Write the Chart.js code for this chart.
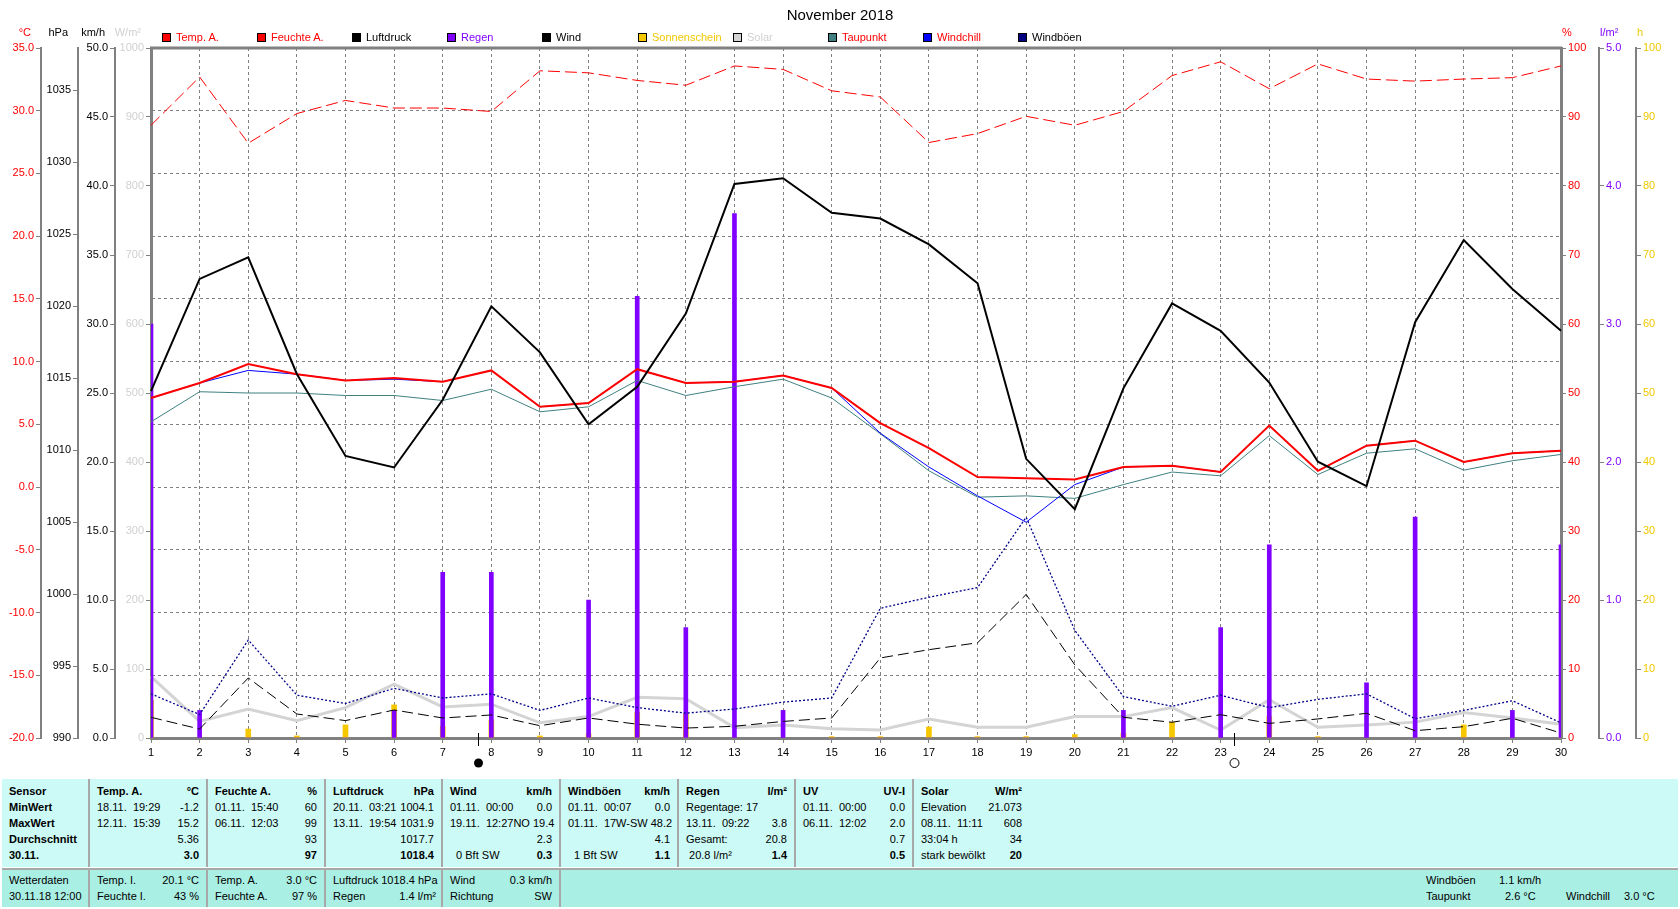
<!DOCTYPE html>
<html lang="de">
<head>
<meta charset="utf-8">
<title>November 2018</title>
<script src="https://cdn.jsdelivr.net/npm/chart.js@4.4.1/dist/chart.umd.min.js"></script>
<style>
  html, body { margin: 0; padding: 0; background: #fff; }
  body { position: relative; width: 1680px; height: 909px; overflow: hidden;
         font-family: "Liberation Sans", Arial, sans-serif; font-size: 11px; color: #000; }
  #chart { position: absolute; left: 0; top: 0; }
  #title { position: absolute; left: 0; top: 6px; width: 1680px; text-align: center; font-size: 15px; }
  .item { position: absolute; top: 31px; height: 13px; line-height: 13px; white-space: nowrap; }
  .item .box { position: absolute; left: 0; top: 2px; width: 7px; height: 7px; border: 1px solid #000; }
  .item .txt { position: absolute; left: 14px; top: 0; }
  .panel { position: absolute; left: 2px; width: 1676px; }
  #stats { top: 779px; height: 88px; background: #ccfaf6; }
  #status { top: 868px; height: 37px; background: #aaefe4; border-top: 2px solid #a8a8a8; }
  .col { position: absolute; top: 0; bottom: 0; box-sizing: border-box; padding: 0 7px 0 7px; border-left: 2px solid #a8a8a8; }
  .col.first { border-left: none; }
  #stats .col { padding-top: 4px; }
  #status .col { padding-top: 2px; }
  .row { display: flex; justify-content: space-between; gap: 3px; height: 16px; line-height: 16px; white-space: pre; }
  .b { font-weight: bold; }
  .free { position: absolute; white-space: nowrap; line-height: 16px; }
</style>
</head>
<body>
<canvas id="chart" width="1680" height="775"></canvas>
<div id="title">November 2018</div>
<div id="legend"></div>

<div id="stats" class="panel">
  <div class="col first" style="left:0;width:86px">
    <div class="row b"><span>Sensor</span></div>
    <div class="row b"><span>MinWert</span></div>
    <div class="row b"><span>MaxWert</span></div>
    <div class="row b"><span>Durchschnitt</span></div>
    <div class="row b"><span>30.11.</span></div>
  </div>
  <div class="col" style="left:86px;width:118px">
    <div class="row b"><span>Temp. A.</span><span>°C</span></div>
    <div class="row"><span>18.11.  19:29</span><span>-1.2</span></div>
    <div class="row"><span>12.11.  15:39</span><span>15.2</span></div>
    <div class="row"><span></span><span>5.36</span></div>
    <div class="row b"><span></span><span>3.0</span></div>
  </div>
  <div class="col" style="left:204px;width:118px">
    <div class="row b"><span>Feuchte A.</span><span>%</span></div>
    <div class="row"><span>01.11.  15:40</span><span>60</span></div>
    <div class="row"><span>06.11.  12:03</span><span>99</span></div>
    <div class="row"><span></span><span>93</span></div>
    <div class="row b"><span></span><span>97</span></div>
  </div>
  <div class="col" style="left:322px;width:117px">
    <div class="row b"><span>Luftdruck</span><span>hPa</span></div>
    <div class="row"><span>20.11.  03:21</span><span>1004.1</span></div>
    <div class="row"><span>13.11.  19:54</span><span>1031.9</span></div>
    <div class="row"><span></span><span>1017.7</span></div>
    <div class="row b"><span></span><span>1018.4</span></div>
  </div>
  <div class="col" style="left:439px;width:118px">
    <div class="row b"><span>Wind</span><span>km/h</span></div>
    <div class="row"><span>01.11.  00:00</span><span>0.0</span></div>
    <div class="row"><span>19.11.  12:27NO</span><span>19.4</span></div>
    <div class="row"><span></span><span>2.3</span></div>
    <div class="row"><span>  0 Bft SW</span><span class="b">0.3</span></div>
  </div>
  <div class="col" style="left:557px;width:118px">
    <div class="row b"><span>Windböen</span><span>km/h</span></div>
    <div class="row"><span>01.11.  00:07</span><span>0.0</span></div>
    <div class="row"><span>01.11.  17W-SW</span><span>48.2</span></div>
    <div class="row"><span></span><span>4.1</span></div>
    <div class="row"><span>  1 Bft SW</span><span class="b">1.1</span></div>
  </div>
  <div class="col" style="left:675px;width:117px">
    <div class="row b"><span>Regen</span><span>l/m²</span></div>
    <div class="row"><span>Regentage: 17</span><span></span></div>
    <div class="row"><span>13.11.  09:22</span><span>3.8</span></div>
    <div class="row"><span>Gesamt:</span><span>20.8</span></div>
    <div class="row"><span> 20.8 l/m²</span><span class="b">1.4</span></div>
  </div>
  <div class="col" style="left:792px;width:118px">
    <div class="row b"><span>UV</span><span>UV-I</span></div>
    <div class="row"><span>01.11.  00:00</span><span>0.0</span></div>
    <div class="row"><span>06.11.  12:02</span><span>2.0</span></div>
    <div class="row"><span></span><span>0.7</span></div>
    <div class="row b"><span></span><span>0.5</span></div>
  </div>
  <div class="col" style="left:910px;width:117px">
    <div class="row b"><span>Solar</span><span>W/m²</span></div>
    <div class="row"><span>Elevation</span><span>21.073</span></div>
    <div class="row"><span>08.11.  11:11</span><span>608</span></div>
    <div class="row"><span>33:04 h</span><span>34</span></div>
    <div class="row"><span>stark bewölkt</span><span class="b">20</span></div>
  </div>
</div>

<div id="status" class="panel">
  <div class="col first" style="left:0;width:86px">
    <div class="row"><span>Wetterdaten</span></div>
    <div class="row"><span>30.11.18 12:00</span></div>
  </div>
  <div class="col" style="left:86px;width:118px">
    <div class="row"><span>Temp. I.</span><span>20.1 °C</span></div>
    <div class="row"><span>Feuchte I.</span><span>43 %</span></div>
  </div>
  <div class="col" style="left:204px;width:118px">
    <div class="row"><span>Temp. A.</span><span>3.0 °C</span></div>
    <div class="row"><span>Feuchte A.</span><span>97 %</span></div>
  </div>
  <div class="col" style="left:322px;width:117px;padding-right:5px">
    <div class="row"><span>Luftdruck</span><span>1018.4 hPa</span></div>
    <div class="row"><span>Regen</span><span>1.4 l/m²</span></div>
  </div>
  <div class="col" style="left:439px;width:118px">
    <div class="row"><span>Wind</span><span>0.3 km/h</span></div>
    <div class="row"><span>Richtung</span><span>SW</span></div>
  </div>
  <div class="col" style="left:557px;width:1119px"></div>
  <span class="free" style="left:1424px;top:2px">Windböen</span>
  <span class="free" style="left:1497px;top:2px">1.1 km/h</span>
  <span class="free" style="left:1424px;top:18px">Taupunkt</span>
  <span class="free" style="left:1503px;top:18px">2.6 °C</span>
  <span class="free" style="left:1564px;top:18px">Windchill</span>
  <span class="free" style="left:1622px;top:18px">3.0 °C</span>
</div>

<script>
// days of November 2018
var days = ['1', '2', '3', '4', '5', '6', '7', '8', '9', '10', '11', '12', '13', '14', '15',
            '16', '17', '18', '19', '20', '21', '22', '23', '24', '25', '26', '27', '28', '29', '30'];

// daily values
var tempA = [7.1, 8.3, 9.8, 9.0, 8.5, 8.7, 8.4, 9.3, 6.4, 6.7, 9.4, 8.3, 8.4, 8.9, 7.9,
             5.1, 3.1, 0.8, 0.7, 0.6, 1.6, 1.7, 1.2, 4.9, 1.3, 3.3, 3.7, 2.0, 2.7, 2.9];
var feuchteA = [88.8, 95.8, 86.2, 90.5, 92.4, 91.3, 91.3, 90.8, 96.7, 96.4, 95.3, 94.6, 97.4, 96.9, 93.8,
                92.9, 86.3, 87.6, 90.1, 88.8, 90.8, 96.0, 98.0, 94.1, 97.7, 95.5, 95.2, 95.5, 95.7, 97.4];
var luftdruck = [1014.1, 1021.9, 1023.4, 1015.3, 1009.6, 1008.8, 1013.5, 1020.0, 1016.8, 1011.8, 1014.4, 1019.5, 1028.5, 1028.9, 1026.5,
                 1026.1, 1024.3, 1021.6, 1009.4, 1005.9, 1014.3, 1020.2, 1018.3, 1014.7, 1009.2, 1007.5, 1018.9, 1024.6, 1021.2, 1018.3];
var regen = [3.0, 0.2, 0, 0, 0, 0.2, 1.2, 1.2, 0, 1.0, 3.2, 0.8, 3.8, 0.2, 0,
             0, 0, 0, 0, 0, 0.2, 0, 0.8, 1.4, 0, 0.4, 1.6, 0, 0.2, 1.4];
var wind = [1.5, 0.65, 4.35, 1.74, 1.26, 2.03, 1.45, 1.67, 0.89, 1.45, 1.0, 0.72, 0.85, 1.2, 1.45,
            5.8, 6.4, 6.9, 10.4, 5.3, 1.5, 1.14, 1.69, 1.06, 1.38, 1.79, 0.53, 0.82, 1.43, 0.36];
var sonnenschein = [5.4, 0, 1.3, 0.3, 1.9, 4.8, 1.7, 2.6, 0.3, 0.6, 3.7, 3.5, 0, 0, 0.2,
                    0.2, 1.6, 0.2, 0.2, 0.5, 0.7, 2.3, 0, 3.1, 0.2, 0, 0, 1.9, 0, 0];
var solar = [89, 24, 42, 25, 44, 78, 45, 49, 22, 31, 59, 57, 15, 19, 13.5,
             11.6, 27.5, 15.5, 15.5, 31, 31, 44, 11.6, 55.5, 15.5, 19, 23, 37, 29, 20];
var taupunkt = [5.2, 7.6, 7.5, 7.5, 7.3, 7.3, 6.9, 7.8, 6.0, 6.4, 8.5, 7.3, 8.0, 8.6, 7.1,
                4.25, 1.3, -0.8, -0.7, -0.9, 0.2, 1.2, 0.9, 4.1, 1.0, 2.7, 3.05, 1.35, 2.1, 2.6];
var windchill = [7.1, 8.3, 9.3, 9.0, 8.5, 8.6, 8.4, 9.3, 6.4, 6.7, 9.4, 8.3, 8.4, 8.9, 7.9,
                 4.3, 1.6, -0.7, -2.8, 0.2, 1.6, 1.7, 1.2, 4.9, 1.3, 3.3, 3.7, 2.0, 2.7, 2.9];
var windboeen = [3.2, 1.7, 7.1, 3.1, 2.5, 3.6, 2.9, 3.2, 2.0, 2.9, 2.2, 1.8, 2.1, 2.6, 2.9,
                 9.4, 10.2, 10.9, 16.0, 7.8, 3.0, 2.3, 3.1, 2.2, 2.8, 3.2, 1.4, 2.0, 2.7, 1.1];

// axis tick labels
var tempTicks = [-20, -15, -10, -5, 0, 5, 10, 15, 20, 25, 30, 35];
var hpaTicks = [990, 995, 1000, 1005, 1010, 1015, 1020, 1025, 1030, 1035];
var kmhTicks = [0, 5, 10, 15, 20, 25, 30, 35, 40, 45, 50];
var solarTicks = [0, 100, 200, 300, 400, 500, 600, 700, 800, 900, 1000];
var humTicks = [0, 10, 20, 30, 40, 50, 60, 70, 80, 90, 100];
var rainTicks = [0, 1, 2, 3, 4, 5];
var sunTicks = [0, 10, 20, 30, 40, 50, 60, 70, 80, 90, 100];

// moon phases (day of month)
var moonPhases = [{ day: 7.72, full: false }, { day: 23.27, full: true }];

var series = [
  { label: 'Temp. A.',     type: 'line', data: tempA,        axis: 'yT', color: '#ff0000', box: '#ff0000', text: '#ff0000', width: 2, dash: [],      order: 2 },
  { label: 'Feuchte A.',   type: 'line', data: feuchteA,     axis: 'yP', color: '#ff0000', box: '#ff0000', text: '#ff0000', width: 1, dash: [12, 5], order: 5 },
  { label: 'Luftdruck',    type: 'line', data: luftdruck,    axis: 'yH', color: '#000000', box: '#000000', text: '#000000', width: 2, dash: [],      order: 1 },
  { label: 'Regen',        type: 'bar',  data: regen,        axis: 'yR', color: '#8000ff', box: '#8000ff', text: '#8000ff', width: 4,               order: 8 },
  { label: 'Wind',         type: 'line', data: wind,         axis: 'yW', color: '#000000', box: '#000000', text: '#000000', width: 1, dash: [11, 5], order: 6 },
  { label: 'Sonnenschein', type: 'bar',  data: sonnenschein, axis: 'yS', color: '#f5c800', box: '#f5c800', text: '#f0c800', width: 5,               order: 9 },
  { label: 'Solar',        type: 'line', data: solar,        axis: 'yL', color: '#d4d4d4', box: '#d4d4d4', text: '#d0d0d0', width: 3, dash: [],      order: 10 },
  { label: 'Taupunkt',     type: 'line', data: taupunkt,     axis: 'yT', color: '#408080', box: '#408080', text: '#ff0000', width: 1, dash: [],      order: 4 },
  { label: 'Windchill',    type: 'line', data: windchill,    axis: 'yT', color: '#0000ff', box: '#0000ff', text: '#ff0000', width: 1, dash: [],      order: 3 },
  { label: 'Windböen',     type: 'line', data: windboeen,    axis: 'yW', color: '#00008b', box: '#000080', text: '#000000', width: 1.3, dash: [2, 2], order: 7 }
];

var units = [
  { axis: 'yT', text: '°C',   color: '#ff0000' },
  { axis: 'yH', text: 'hPa',  color: '#000000' },
  { axis: 'yW', text: 'km/h', color: '#000000' },
  { axis: 'yL', text: 'W/m²', color: '#d0d0d0' },
  { axis: 'yP', text: '%',    color: '#ff0000' },
  { axis: 'yR', text: 'l/m²', color: '#8000ff' },
  { axis: 'yS', text: 'h',    color: '#f0c800' }
];

// legend row above the plot
var legend = document.getElementById('legend');
series.forEach(function (s, i) {
  var el = document.createElement('div');
  el.className = 'item';
  el.style.left = (162 + Math.round(i * 95.1)) + 'px';
  el.innerHTML = '<span class="box" style="background:' + s.box + '"></span>' +
                 '<span class="txt" style="color:' + s.text + '">' + s.label + '</span>';
  legend.appendChild(el);
});

var datasets = series.map(function (s) {
  var d = { type: s.type, label: s.label, data: s.data, yAxisID: s.axis, order: s.order,
            borderColor: s.color, backgroundColor: s.color };
  if (s.type === 'line') {
    d.borderWidth = s.width; d.borderDash = s.dash; d.pointRadius = 0; d.tension = 0; d.fill = false;
  } else {
    d.barThickness = s.width; d.grouped = false; d.borderWidth = 0;
  }
  return d;
});

function yAxis(pos, weight, width, min, max, tickVals, color, digits, borderWidth, withGrid) {
  return {
    type: 'linear', position: pos, weight: weight, min: min, max: max,
    afterBuildTicks: function (s) { s.ticks = tickVals.map(function (v) { return { value: v }; }); },
    afterFit: function (s) { s.width = width; },
    ticks: { color: color, padding: 2, font: { size: 11 },
             callback: function (v) { return v.toFixed(digits); } },
    grid: { drawOnChartArea: withGrid, color: '#808080', lineWidth: 1,
            tickLength: 5, tickColor: '#808080', tickWidth: 1 },
    border: { display: true, color: '#808080', width: borderWidth, dash: withGrid ? [3, 3] : [] }
  };
}

// frame top, unit captions and moon phases
var decor = {
  id: 'decor',
  afterDraw: function (chart) {
    var ctx = chart.ctx, a = chart.chartArea;
    ctx.save();
    ctx.strokeStyle = '#808080';
    ctx.lineWidth = 3;
    ctx.beginPath();
    ctx.moveTo(a.left - 1, a.top);
    ctx.lineTo(a.right + 1, a.top);
    ctx.stroke();

    ctx.font = '11px "Liberation Sans", Arial, sans-serif';
    ctx.textBaseline = 'middle';
    units.forEach(function (u) {
      var s = chart.scales[u.axis];
      ctx.fillStyle = u.color;
      if (s.position === 'left') { ctx.textAlign = 'right'; ctx.fillText(u.text, s.right - 10, 33); }
      else { ctx.textAlign = 'left'; ctx.fillText(u.text, s.left + 1, 33); }
    });

    var x = chart.scales.x;
    moonPhases.forEach(function (m) {
      var px = Math.round(x.getPixelForValue(m.day - 1)) + 0.5;
      ctx.strokeStyle = '#000';
      ctx.lineWidth = 1;
      ctx.beginPath();
      ctx.moveTo(px, a.bottom - 5);
      ctx.lineTo(px, a.bottom + 8);
      ctx.stroke();
      ctx.beginPath();
      ctx.arc(px, a.bottom + 25, 4.5, 0, Math.PI * 2);
      if (m.full) { ctx.stroke(); } else { ctx.fillStyle = '#000'; ctx.fill(); }
    });
    ctx.restore();
  }
};

Chart.defaults.font.family = '"Liberation Sans", Arial, sans-serif';

new Chart(document.getElementById('chart'), {
  type: 'line',
  data: { labels: days, datasets: datasets },
  options: {
    responsive: false,
    animation: false,
    layout: { padding: { left: 3, right: 7, top: 48, bottom: 0 } },
    plugins: { legend: { display: false }, tooltip: { enabled: false }, title: { display: false } },
    scales: {
      x: {
        type: 'category', offset: false,
        afterFit: function (s) { s.height = 37; },
        ticks: { color: '#000', padding: 3, font: { size: 11 }, maxRotation: 0, autoSkip: false },
        grid: { offset: false, color: '#808080', lineWidth: 1, tickLength: 5, tickColor: '#808080' },
        border: { display: true, color: '#808080', width: 3, dash: [3, 3] }
      },
      yL: yAxis('left', 0, 36, 0, 1000, solarTicks, '#d0d0d0', 0, 3, false),
      yW: yAxis('left', 1, 37, 0, 50, kmhTicks, '#000000', 1, 2, false),
      yH: yAxis('left', 2, 37, 990, 1037.95, hpaTicks, '#000000', 0, 2, false),
      yT: yAxis('left', 3, 38, -20, 35, tempTicks, '#ff0000', 1, 2, true),
      yP: yAxis('right', 0, 38, 0, 100, humTicks, '#ff0000', 0, 3, false),
      yR: yAxis('right', 1, 37, 0, 5, rainTicks, '#8000ff', 1, 2, false),
      yS: yAxis('right', 2, 37, 0, 100, sunTicks, '#f0c800', 0, 2, false)
    }
  },
  plugins: [decor]
});
</script>
</body>
</html>
